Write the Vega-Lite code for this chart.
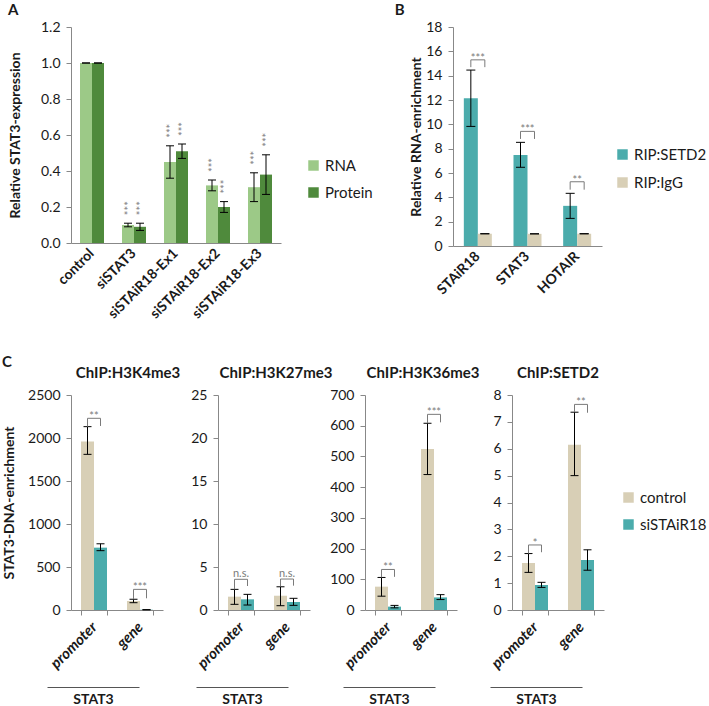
{
  "$schema": "https://vega.github.io/schema/vega-lite/v6.json",
  "background": "white",
  "padding": {"left": 2, "top": 3, "right": 0, "bottom": 0},
  "config": {
    "font": "Lato",
    "view": {"stroke": null},
    "axis": {"grid": false, "domainColor": "#888888", "tickColor": "#888888", "tickSize": 5, "labelFont": "Lato", "labelFontSize": 14, "labelColor": "#1a1a1a", "titleFont": "Lato", "titleFontSize": 14, "titleFontWeight": "bold", "titleColor": "#1a1a1a"},
    "axisY": {"labelOverlap": false, "labelSeparation": -100},
    "legend": {"labelFont": "Lato", "labelFontSize": 15, "labelColor": "#1a1a1a", "symbolType": "square", "symbolSize": 110, "symbolStrokeWidth": 0, "labelOffset": 4},
    "title": {"font": "Lato", "fontSize": 15, "fontWeight": "bold", "color": "#1a1a1a"}
  },
  "datasets": {
    "a": [
      {"cat": "control", "type": "RNA", "v": 1.0, "lo": 1.0, "hi": 1.0, "sig": ""},
      {"cat": "control", "type": "Protein", "v": 1.0, "lo": 1.0, "hi": 1.0, "sig": ""},
      {"cat": "siSTAT3", "type": "RNA", "v": 0.10, "lo": 0.09, "hi": 0.11, "sig": "***"},
      {"cat": "siSTAT3", "type": "Protein", "v": 0.09, "lo": 0.07, "hi": 0.11, "sig": "***"},
      {"cat": "siSTAiR18-Ex1", "type": "RNA", "v": 0.45, "lo": 0.36, "hi": 0.54, "sig": "***"},
      {"cat": "siSTAiR18-Ex1", "type": "Protein", "v": 0.51, "lo": 0.47, "hi": 0.55, "sig": "***"},
      {"cat": "siSTAiR18-Ex2", "type": "RNA", "v": 0.32, "lo": 0.29, "hi": 0.35, "sig": "***"},
      {"cat": "siSTAiR18-Ex2", "type": "Protein", "v": 0.20, "lo": 0.17, "hi": 0.23, "sig": "***"},
      {"cat": "siSTAiR18-Ex3", "type": "RNA", "v": 0.31, "lo": 0.23, "hi": 0.39, "sig": "***"},
      {"cat": "siSTAiR18-Ex3", "type": "Protein", "v": 0.38, "lo": 0.27, "hi": 0.49, "sig": "***"}
    ],
    "b": [
      {"cat": "STAiR18", "rip": "RIP:SETD2", "v": 12.15, "lo": 9.83, "hi": 14.46},
      {"cat": "STAiR18", "rip": "RIP:IgG", "v": 1, "lo": 1, "hi": 1},
      {"cat": "STAT3", "rip": "RIP:SETD2", "v": 7.48, "lo": 6.47, "hi": 8.52},
      {"cat": "STAT3", "rip": "RIP:IgG", "v": 1, "lo": 1, "hi": 1},
      {"cat": "HOTAIR", "rip": "RIP:SETD2", "v": 3.3, "lo": 2.27, "hi": 4.33},
      {"cat": "HOTAIR", "rip": "RIP:IgG", "v": 1, "lo": 1, "hi": 1}
    ],
    "bbr": [
      {"cat": "STAiR18", "rip": "RIP:SETD2", "val": 14.7, "ord": 1},
      {"cat": "STAiR18", "rip": "RIP:SETD2", "val": 15.3, "ord": 2},
      {"cat": "STAiR18", "rip": "RIP:IgG", "val": 15.3, "ord": 3},
      {"cat": "STAiR18", "rip": "RIP:IgG", "val": 14.7, "ord": 4},
      {"cat": "STAT3", "rip": "RIP:SETD2", "val": 8.8, "ord": 1},
      {"cat": "STAT3", "rip": "RIP:SETD2", "val": 9.42, "ord": 2},
      {"cat": "STAT3", "rip": "RIP:IgG", "val": 9.42, "ord": 3},
      {"cat": "STAT3", "rip": "RIP:IgG", "val": 8.8, "ord": 4},
      {"cat": "HOTAIR", "rip": "RIP:SETD2", "val": 4.63, "ord": 1},
      {"cat": "HOTAIR", "rip": "RIP:SETD2", "val": 5.28, "ord": 2},
      {"cat": "HOTAIR", "rip": "RIP:IgG", "val": 5.28, "ord": 3},
      {"cat": "HOTAIR", "rip": "RIP:IgG", "val": 4.63, "ord": 4}
    ],
    "bsig": [
      {"cat": "STAiR18", "y": 15.3, "sig": "***"},
      {"cat": "STAT3", "y": 9.42, "sig": "***"},
      {"cat": "HOTAIR", "y": 5.28, "sig": "**"}
    ],
    "cbars": [
      {"p": "H3K4me3", "cat": "promoter", "cond": "control", "v": 1960, "lo": 1810, "hi": 2132},
      {"p": "H3K4me3", "cat": "promoter", "cond": "siSTAiR18", "v": 725, "lo": 690, "hi": 770},
      {"p": "H3K4me3", "cat": "gene", "cond": "control", "v": 105, "lo": 85, "hi": 125},
      {"p": "H3K4me3", "cat": "gene", "cond": "siSTAiR18", "v": 3, "lo": 2, "hi": 4},
      {"p": "H3K27me3", "cat": "promoter", "cond": "control", "v": 1.55, "lo": 0.66, "hi": 2.4},
      {"p": "H3K27me3", "cat": "promoter", "cond": "siSTAiR18", "v": 1.24, "lo": 0.58, "hi": 1.82},
      {"p": "H3K27me3", "cat": "gene", "cond": "control", "v": 1.66, "lo": 0.5, "hi": 2.7},
      {"p": "H3K27me3", "cat": "gene", "cond": "siSTAiR18", "v": 0.93, "lo": 0.54, "hi": 1.36},
      {"p": "H3K36me3", "cat": "promoter", "cond": "control", "v": 76, "lo": 45, "hi": 106},
      {"p": "H3K36me3", "cat": "promoter", "cond": "siSTAiR18", "v": 11, "lo": 7, "hi": 15},
      {"p": "H3K36me3", "cat": "gene", "cond": "control", "v": 524, "lo": 441, "hi": 608},
      {"p": "H3K36me3", "cat": "gene", "cond": "siSTAiR18", "v": 41, "lo": 34, "hi": 50},
      {"p": "SETD2", "cat": "promoter", "cond": "control", "v": 1.75, "lo": 1.4, "hi": 2.1},
      {"p": "SETD2", "cat": "promoter", "cond": "siSTAiR18", "v": 0.93, "lo": 0.84, "hi": 1.03},
      {"p": "SETD2", "cat": "gene", "cond": "control", "v": 6.15, "lo": 5.0, "hi": 7.36},
      {"p": "SETD2", "cat": "gene", "cond": "siSTAiR18", "v": 1.86, "lo": 1.48, "hi": 2.24}
    ],
    "cbr": [
      {"p": "H3K4me3", "cat": "promoter", "cond": "control", "val": 2132, "ord": 1},
      {"p": "H3K4me3", "cat": "promoter", "cond": "control", "val": 2229, "ord": 2},
      {"p": "H3K4me3", "cat": "promoter", "cond": "siSTAiR18", "val": 2229, "ord": 3},
      {"p": "H3K4me3", "cat": "promoter", "cond": "siSTAiR18", "val": 2140, "ord": 4},
      {"p": "H3K4me3", "cat": "gene", "cond": "control", "val": 125, "ord": 1},
      {"p": "H3K4me3", "cat": "gene", "cond": "control", "val": 240, "ord": 2},
      {"p": "H3K4me3", "cat": "gene", "cond": "siSTAiR18", "val": 240, "ord": 3},
      {"p": "H3K4me3", "cat": "gene", "cond": "siSTAiR18", "val": 136, "ord": 4},
      {"p": "H3K27me3", "cat": "promoter", "cond": "control", "val": 2.4, "ord": 1},
      {"p": "H3K27me3", "cat": "promoter", "cond": "control", "val": 3.57, "ord": 2},
      {"p": "H3K27me3", "cat": "promoter", "cond": "siSTAiR18", "val": 3.57, "ord": 3},
      {"p": "H3K27me3", "cat": "promoter", "cond": "siSTAiR18", "val": 2.79, "ord": 4},
      {"p": "H3K27me3", "cat": "gene", "cond": "control", "val": 2.75, "ord": 1},
      {"p": "H3K27me3", "cat": "gene", "cond": "control", "val": 3.6, "ord": 2},
      {"p": "H3K27me3", "cat": "gene", "cond": "siSTAiR18", "val": 3.6, "ord": 3},
      {"p": "H3K27me3", "cat": "gene", "cond": "siSTAiR18", "val": 2.83, "ord": 4},
      {"p": "H3K36me3", "cat": "promoter", "cond": "control", "val": 106, "ord": 1},
      {"p": "H3K36me3", "cat": "promoter", "cond": "control", "val": 132, "ord": 2},
      {"p": "H3K36me3", "cat": "promoter", "cond": "siSTAiR18", "val": 132, "ord": 3},
      {"p": "H3K36me3", "cat": "promoter", "cond": "siSTAiR18", "val": 108, "ord": 4},
      {"p": "H3K36me3", "cat": "gene", "cond": "control", "val": 608, "ord": 1},
      {"p": "H3K36me3", "cat": "gene", "cond": "control", "val": 637, "ord": 2},
      {"p": "H3K36me3", "cat": "gene", "cond": "siSTAiR18", "val": 637, "ord": 3},
      {"p": "H3K36me3", "cat": "gene", "cond": "siSTAiR18", "val": 611, "ord": 4},
      {"p": "SETD2", "cat": "promoter", "cond": "control", "val": 2.1, "ord": 1},
      {"p": "SETD2", "cat": "promoter", "cond": "control", "val": 2.42, "ord": 2},
      {"p": "SETD2", "cat": "promoter", "cond": "siSTAiR18", "val": 2.42, "ord": 3},
      {"p": "SETD2", "cat": "promoter", "cond": "siSTAiR18", "val": 2.15, "ord": 4},
      {"p": "SETD2", "cat": "gene", "cond": "control", "val": 7.36, "ord": 1},
      {"p": "SETD2", "cat": "gene", "cond": "control", "val": 7.65, "ord": 2},
      {"p": "SETD2", "cat": "gene", "cond": "siSTAiR18", "val": 7.65, "ord": 3},
      {"p": "SETD2", "cat": "gene", "cond": "siSTAiR18", "val": 7.34, "ord": 4}
    ],
    "csig": [
      {"p": "H3K4me3", "cat": "promoter", "y": 2229, "sig": "**"},
      {"p": "H3K4me3", "cat": "gene", "y": 240, "sig": "***"},
      {"p": "H3K27me3", "cat": "promoter", "y": 3.57, "sig": "n.s."},
      {"p": "H3K27me3", "cat": "gene", "y": 3.6, "sig": "n.s."},
      {"p": "H3K36me3", "cat": "promoter", "y": 132, "sig": "**"},
      {"p": "H3K36me3", "cat": "gene", "y": 637, "sig": "***"},
      {"p": "SETD2", "cat": "promoter", "y": 2.42, "sig": "*"},
      {"p": "SETD2", "cat": "gene", "y": 7.65, "sig": "**"}
    ]
  },
  "resolve": {"scale": {"color": "independent"}},
  "spacing": 34,
  "vconcat": [
    {
      "bounds": "flush",
      "spacing": 172,
      "resolve": {"scale": {"color": "independent"}},
      "hconcat": [
        {
          "title": {"text": "A", "anchor": "start", "frame": "bounds", "offset": 2},
          "width": 210,
          "height": 216,
          "data": {"name": "a"},
          "encoding": {
            "x": {"field": "cat", "type": "nominal", "title": null, "scale": {"domain": ["control", "siSTAT3", "siSTAiR18-Ex1", "siSTAiR18-Ex2", "siSTAiR18-Ex3"], "paddingInner": 0.43, "paddingOuter": 0.215}, "axis": {"labelAngle": -45, "labelAlign": "right", "labelBaseline": "middle", "labelFontWeight": "bold", "ticks": false, "labelPadding": 8}}
          },
          "layer": [
            {
              "mark": {"type": "bar", "width": 12, "xOffset": {"expr": "datum.type == 'RNA' ? -6 : 6"}},
              "encoding": {
                "y": {"field": "v", "type": "quantitative", "stack": null, "title": "Relative STAT3-expression", "scale": {"domain": [0, 1.2], "nice": false}, "axis": {"values": [0, 0.2, 0.4, 0.6, 0.8, 1.0, 1.2], "format": ".1f", "labelOverlap": false, "labelPadding": 6, "minExtent": 35, "maxExtent": 35, "titlePadding": 14}},
                "color": {"field": "type", "type": "nominal", "scale": {"domain": ["RNA", "Protein"], "range": ["#9cc987", "#4f8a3c"]}, "legend": {"title": null, "orient": "none", "legendX": 235, "legendY": 131, "rowPadding": 11}}
              }
            },
            {
              "mark": {"type": "rule", "color": "#000000", "strokeWidth": 1, "xOffset": {"expr": "datum.type == 'RNA' ? -6 : 6"}},
              "encoding": {
                "y": {"field": "lo", "type": "quantitative", "title": "Relative STAT3-expression", "scale": {"domain": [0, 1.2], "nice": false}, "axis": {"values": [0, 0.2, 0.4, 0.6, 0.8, 1.0, 1.2], "format": ".1f", "labelOverlap": false, "labelPadding": 6, "minExtent": 35, "maxExtent": 35, "titlePadding": 14}},
                "y2": {"field": "hi"}
              }
            },
            {
              "transform": [{"fold": ["lo", "hi"], "as": ["k", "val"]}],
              "mark": {"type": "tick", "color": "#000000", "size": 8, "thickness": 1, "opacity": 1, "xOffset": {"expr": "datum.type == 'RNA' ? -6 : 6"}},
              "encoding": {
                "y": {"field": "val", "type": "quantitative", "title": "Relative STAT3-expression", "scale": {"domain": [0, 1.2], "nice": false}, "axis": {"values": [0, 0.2, 0.4, 0.6, 0.8, 1.0, 1.2], "format": ".1f", "labelOverlap": false, "labelPadding": 6, "minExtent": 35, "maxExtent": 35, "titlePadding": 14}}
              }
            },
            {
              "mark": {"type": "text", "angle": 270, "align": "left", "baseline": "middle", "dx": 8, "dy": 2, "fontSize": 11, "color": "#7a7a7a", "font": "Lato", "xOffset": {"expr": "datum.type == 'RNA' ? -6 : 6"}},
              "encoding": {
                "y": {"field": "hi", "type": "quantitative", "title": "Relative STAT3-expression", "scale": {"domain": [0, 1.2], "nice": false}, "axis": {"values": [0, 0.2, 0.4, 0.6, 0.8, 1.0, 1.2], "format": ".1f", "labelOverlap": false, "labelPadding": 6, "minExtent": 35, "maxExtent": 35, "titlePadding": 14}},
                "text": {"field": "sig"}
              }
            }
          ]
        },
        {
          "title": {"text": "B", "anchor": "start", "frame": "bounds", "offset": 2, "dx": -15},
          "width": 149,
          "height": 219,
          "encoding": {
            "x": {"field": "cat", "type": "nominal", "title": null, "scale": {"domain": ["STAiR18", "STAT3", "HOTAIR"], "paddingInner": 0.44, "paddingOuter": 0.22}, "axis": {"labelAngle": -45, "labelAlign": "right", "labelBaseline": "middle", "labelFontWeight": "bold", "ticks": false, "labelPadding": 8}}
          },
          "layer": [
            {
              "data": {"name": "b"},
              "mark": {"type": "bar", "width": 14, "xOffset": {"expr": "datum.rip == 'RIP:SETD2' ? -7 : 7"}},
              "encoding": {
                "y": {"field": "v", "type": "quantitative", "stack": null, "title": "Relative RNA-enrichment", "scale": {"domain": [0, 18], "nice": false}, "axis": {"values": [0, 2, 4, 6, 8, 10, 12, 14, 16, 18], "format": "d", "labelOverlap": false, "labelPadding": 6, "titlePadding": 2}},
                "color": {"field": "rip", "type": "nominal", "scale": {"domain": ["RIP:SETD2", "RIP:IgG"], "range": ["#4bacac", "#d8cfb6"]}, "legend": {"title": null, "orient": "none", "legendX": 162, "legendY": 120, "rowPadding": 12}}
              }
            },
            {
              "data": {"name": "b"},
              "mark": {"type": "rule", "color": "#000000", "strokeWidth": 1, "xOffset": {"expr": "datum.rip == 'RIP:SETD2' ? -7 : 7"}},
              "encoding": {
                "y": {"field": "lo", "type": "quantitative", "title": "Relative RNA-enrichment", "scale": {"domain": [0, 18], "nice": false}, "axis": {"values": [0, 2, 4, 6, 8, 10, 12, 14, 16, 18], "format": "d", "labelOverlap": false, "labelPadding": 6, "titlePadding": 2}},
                "y2": {"field": "hi"}
              }
            },
            {
              "data": {"name": "b"},
              "transform": [{"fold": ["lo", "hi"], "as": ["k", "val"]}],
              "mark": {"type": "tick", "color": "#000000", "size": 9, "thickness": 1, "opacity": 1, "xOffset": {"expr": "datum.rip == 'RIP:SETD2' ? -7 : 7"}},
              "encoding": {
                "y": {"field": "val", "type": "quantitative", "title": "Relative RNA-enrichment", "scale": {"domain": [0, 18], "nice": false}, "axis": {"values": [0, 2, 4, 6, 8, 10, 12, 14, 16, 18], "format": "d", "labelOverlap": false, "labelPadding": 6, "titlePadding": 2}}
              }
            },
            {
              "data": {"name": "bbr"},
              "mark": {"type": "line", "color": "#7a7a7a", "strokeWidth": 1, "xOffset": {"expr": "datum.rip == 'RIP:SETD2' ? -7 : 7"}},
              "encoding": {
                "y": {"field": "val", "type": "quantitative", "title": "Relative RNA-enrichment", "scale": {"domain": [0, 18], "nice": false}, "axis": {"values": [0, 2, 4, 6, 8, 10, 12, 14, 16, 18], "format": "d", "labelOverlap": false, "labelPadding": 6, "titlePadding": 2}},
                "detail": {"field": "cat"},
                "order": {"field": "ord", "type": "quantitative"}
              }
            },
            {
              "data": {"name": "bsig"},
              "mark": {"type": "text", "baseline": "alphabetic", "align": "center", "dy": 2, "fontSize": 11, "color": "#7a7a7a", "font": "Lato"},
              "encoding": {
                "y": {"field": "y", "type": "quantitative", "title": "Relative RNA-enrichment", "scale": {"domain": [0, 18], "nice": false}, "axis": {"values": [0, 2, 4, 6, 8, 10, 12, 14, 16, 18], "format": "d", "labelOverlap": false, "labelPadding": 6, "titlePadding": 2}},
                "text": {"field": "sig"}
              }
            }
          ]
        }
      ]
    },
    {
      "title": {"text": "C", "anchor": "start", "offset": -4},
      "bounds": "flush",
      "spacing": 55,
      "resolve": {"scale": {"color": "independent"}},
      "hconcat": [
        {
          "title": {"text": "ChIP:H3K4me3", "frame": "group", "anchor": "middle", "dx": 11, "offset": 7},
          "width": 92,
          "height": 215,
          "resolve": {"axis": {"x": "independent"}},
          "layer": [
            {
              "encoding": {
                "x": {"field": "cat", "type": "nominal", "title": null, "scale": {"domain": ["promoter", "gene"], "paddingInner": 0.43, "paddingOuter": 0.215}, "axis": {"labelAngle": -45, "labelAlign": "right", "labelBaseline": "middle", "labelFontWeight": "bold", "labelFontStyle": "italic", "labelFontSize": 15, "tickBand": "extent", "labelPadding": 9}}
              },
              "layer": [
                {
                  "data": {"name": "cbars"},
                  "transform": [{"filter": "datum.p == 'H3K4me3'"}],
                  "mark": {"type": "bar", "width": 13, "xOffset": {"expr": "datum.cond == 'control' ? -6.5 : 6.5"}},
                  "encoding": {
                    "y": {"field": "v", "type": "quantitative", "stack": null, "title": "STAT3-DNA-enrichment", "scale": {"domain": [0, 2500], "nice": false}, "axis": {"values": [0, 500, 1000, 1500, 2000, 2500], "format": "d", "labelOverlap": false, "labelPadding": 6, "minExtent": 43, "maxExtent": 43, "titlePadding": 12}},
                    "color": {"field": "cond", "type": "nominal", "scale": {"domain": ["control", "siSTAiR18"], "range": ["#d8cfb6", "#4bacac"]}, "legend": null}
                  }
                },
                {
                  "data": {"name": "cbars"},
                  "transform": [{"filter": "datum.p == 'H3K4me3'"}],
                  "mark": {"type": "rule", "color": "#000000", "strokeWidth": 1, "xOffset": {"expr": "datum.cond == 'control' ? -6.5 : 6.5"}},
                  "encoding": {"y": {"field": "lo", "type": "quantitative", "title": "STAT3-DNA-enrichment", "scale": {"domain": [0, 2500], "nice": false}, "axis": {"values": [0, 500, 1000, 1500, 2000, 2500], "format": "d", "labelOverlap": false, "labelPadding": 6, "minExtent": 43, "maxExtent": 43, "titlePadding": 12}}, "y2": {"field": "hi"}}
                },
                {
                  "data": {"name": "cbars"},
                  "transform": [{"filter": "datum.p == 'H3K4me3'"}, {"fold": ["lo", "hi"], "as": ["k", "val"]}],
                  "mark": {"type": "tick", "color": "#000000", "size": 8, "thickness": 1, "opacity": 1, "xOffset": {"expr": "datum.cond == 'control' ? -6.5 : 6.5"}},
                  "encoding": {"y": {"field": "val", "type": "quantitative", "title": "STAT3-DNA-enrichment", "scale": {"domain": [0, 2500], "nice": false}, "axis": {"values": [0, 500, 1000, 1500, 2000, 2500], "format": "d", "labelOverlap": false, "labelPadding": 6, "minExtent": 43, "maxExtent": 43, "titlePadding": 12}}}
                },
                {
                  "data": {"name": "cbr"},
                  "transform": [{"filter": "datum.p == 'H3K4me3'"}],
                  "mark": {"type": "line", "color": "#7a7a7a", "strokeWidth": 1, "xOffset": {"expr": "datum.cond == 'control' ? -6.5 : 6.5"}},
                  "encoding": {"y": {"field": "val", "type": "quantitative", "title": "STAT3-DNA-enrichment", "scale": {"domain": [0, 2500], "nice": false}, "axis": {"values": [0, 500, 1000, 1500, 2000, 2500], "format": "d", "labelOverlap": false, "labelPadding": 6, "minExtent": 43, "maxExtent": 43, "titlePadding": 12}}, "detail": {"field": "cat"}, "order": {"field": "ord", "type": "quantitative"}}
                },
                {
                  "data": {"name": "csig"},
                  "transform": [{"filter": "datum.p == 'H3K4me3'"}],
                  "mark": {"type": "text", "baseline": "alphabetic", "align": "center", "dy": 2, "fontSize": 11, "color": "#7a7a7a", "font": "Lato"},
                  "encoding": {"y": {"field": "y", "type": "quantitative", "title": "STAT3-DNA-enrichment", "scale": {"domain": [0, 2500], "nice": false}, "axis": {"values": [0, 500, 1000, 1500, 2000, 2500], "format": "d", "labelOverlap": false, "labelPadding": 6, "minExtent": 43, "maxExtent": 43, "titlePadding": 12}}, "text": {"field": "sig"}}
                }
              ]
            },
            {
              "data": {"name": "csig"},
              "transform": [{"filter": "datum.p == 'H3K4me3'"}],
              "mark": {"type": "text", "text": ""},
              "encoding": {
                "x": {"field": "cat", "type": "nominal", "title": "STAT3", "scale": {"domain": ["promoter", "gene"]}, "axis": {"orient": "bottom", "offset": 77, "position": -24, "labels": false, "ticks": false, "domainColor": "#555555", "titlePadding": 5}},
                "y": {"field": "y", "type": "quantitative", "title": "STAT3-DNA-enrichment", "scale": {"domain": [0, 2500], "nice": false}, "axis": {"values": [0, 500, 1000, 1500, 2000, 2500], "format": "d", "labelOverlap": false, "labelPadding": 6, "minExtent": 43, "maxExtent": 43, "titlePadding": 12}}
              }
            }
          ]
        },
        {
          "title": {"text": "ChIP:H3K27me3", "frame": "group", "anchor": "middle", "dx": 12, "offset": 7},
          "width": 92,
          "height": 215,
          "resolve": {"axis": {"x": "independent"}},
          "layer": [
            {
              "encoding": {
                "x": {"field": "cat", "type": "nominal", "title": null, "scale": {"domain": ["promoter", "gene"], "paddingInner": 0.43, "paddingOuter": 0.215}, "axis": {"labelAngle": -45, "labelAlign": "right", "labelBaseline": "middle", "labelFontWeight": "bold", "labelFontStyle": "italic", "labelFontSize": 15, "tickBand": "extent", "labelPadding": 9}}
              },
              "layer": [
                {
                  "data": {"name": "cbars"},
                  "transform": [{"filter": "datum.p == 'H3K27me3'"}],
                  "mark": {"type": "bar", "width": 13, "xOffset": {"expr": "datum.cond == 'control' ? -6.5 : 6.5"}},
                  "encoding": {
                    "y": {"field": "v", "type": "quantitative", "stack": null, "title": null, "scale": {"domain": [0, 25], "nice": false}, "axis": {"values": [0, 5, 10, 15, 20, 25], "format": "d", "labelOverlap": false, "labelPadding": 6}},
                    "color": {"field": "cond", "type": "nominal", "scale": {"domain": ["control", "siSTAiR18"], "range": ["#d8cfb6", "#4bacac"]}, "legend": null}
                  }
                },
                {
                  "data": {"name": "cbars"},
                  "transform": [{"filter": "datum.p == 'H3K27me3'"}],
                  "mark": {"type": "rule", "color": "#000000", "strokeWidth": 1, "xOffset": {"expr": "datum.cond == 'control' ? -6.5 : 6.5"}},
                  "encoding": {"y": {"field": "lo", "type": "quantitative", "title": null, "scale": {"domain": [0, 25], "nice": false}, "axis": {"values": [0, 5, 10, 15, 20, 25], "format": "d", "labelOverlap": false, "labelPadding": 6}}, "y2": {"field": "hi"}}
                },
                {
                  "data": {"name": "cbars"},
                  "transform": [{"filter": "datum.p == 'H3K27me3'"}, {"fold": ["lo", "hi"], "as": ["k", "val"]}],
                  "mark": {"type": "tick", "color": "#000000", "size": 8, "thickness": 1, "opacity": 1, "xOffset": {"expr": "datum.cond == 'control' ? -6.5 : 6.5"}},
                  "encoding": {"y": {"field": "val", "type": "quantitative", "title": null, "scale": {"domain": [0, 25], "nice": false}, "axis": {"values": [0, 5, 10, 15, 20, 25], "format": "d", "labelOverlap": false, "labelPadding": 6}}}
                },
                {
                  "data": {"name": "cbr"},
                  "transform": [{"filter": "datum.p == 'H3K27me3'"}],
                  "mark": {"type": "line", "color": "#7a7a7a", "strokeWidth": 1, "xOffset": {"expr": "datum.cond == 'control' ? -6.5 : 6.5"}},
                  "encoding": {"y": {"field": "val", "type": "quantitative", "title": null, "scale": {"domain": [0, 25], "nice": false}, "axis": {"values": [0, 5, 10, 15, 20, 25], "format": "d", "labelOverlap": false, "labelPadding": 6}}, "detail": {"field": "cat"}, "order": {"field": "ord", "type": "quantitative"}}
                },
                {
                  "data": {"name": "csig"},
                  "transform": [{"filter": "datum.p == 'H3K27me3'"}],
                  "mark": {"type": "text", "baseline": "alphabetic", "align": "center", "dy": -2, "fontSize": 11, "color": "#7a7a7a", "font": "Lato"},
                  "encoding": {"y": {"field": "y", "type": "quantitative", "title": null, "scale": {"domain": [0, 25], "nice": false}, "axis": {"values": [0, 5, 10, 15, 20, 25], "format": "d", "labelOverlap": false, "labelPadding": 6}}, "text": {"field": "sig"}}
                }
              ]
            },
            {
              "data": {"name": "csig"},
              "transform": [{"filter": "datum.p == 'H3K27me3'"}],
              "mark": {"type": "text", "text": ""},
              "encoding": {
                "x": {"field": "cat", "type": "nominal", "title": "STAT3", "scale": {"domain": ["promoter", "gene"]}, "axis": {"orient": "bottom", "offset": 77, "position": -22, "labels": false, "ticks": false, "domainColor": "#555555", "titlePadding": 5}},
                "y": {"field": "y", "type": "quantitative", "title": null, "scale": {"domain": [0, 25], "nice": false}, "axis": {"values": [0, 5, 10, 15, 20, 25], "format": "d", "labelOverlap": false, "labelPadding": 6}}
              }
            }
          ]
        },
        {
          "title": {"text": "ChIP:H3K36me3", "frame": "group", "anchor": "middle", "dx": 12, "offset": 7},
          "width": 92,
          "height": 215,
          "resolve": {"axis": {"x": "independent"}},
          "layer": [
            {
              "encoding": {
                "x": {"field": "cat", "type": "nominal", "title": null, "scale": {"domain": ["promoter", "gene"], "paddingInner": 0.43, "paddingOuter": 0.215}, "axis": {"labelAngle": -45, "labelAlign": "right", "labelBaseline": "middle", "labelFontWeight": "bold", "labelFontStyle": "italic", "labelFontSize": 15, "tickBand": "extent", "labelPadding": 9}}
              },
              "layer": [
                {
                  "data": {"name": "cbars"},
                  "transform": [{"filter": "datum.p == 'H3K36me3'"}],
                  "mark": {"type": "bar", "width": 13, "xOffset": {"expr": "datum.cond == 'control' ? -6.5 : 6.5"}},
                  "encoding": {
                    "y": {"field": "v", "type": "quantitative", "stack": null, "title": null, "scale": {"domain": [0, 700], "nice": false}, "axis": {"values": [0, 100, 200, 300, 400, 500, 600, 700], "format": "d", "labelOverlap": false, "labelPadding": 6}},
                    "color": {"field": "cond", "type": "nominal", "scale": {"domain": ["control", "siSTAiR18"], "range": ["#d8cfb6", "#4bacac"]}, "legend": null}
                  }
                },
                {
                  "data": {"name": "cbars"},
                  "transform": [{"filter": "datum.p == 'H3K36me3'"}],
                  "mark": {"type": "rule", "color": "#000000", "strokeWidth": 1, "xOffset": {"expr": "datum.cond == 'control' ? -6.5 : 6.5"}},
                  "encoding": {"y": {"field": "lo", "type": "quantitative", "title": null, "scale": {"domain": [0, 700], "nice": false}, "axis": {"values": [0, 100, 200, 300, 400, 500, 600, 700], "format": "d", "labelOverlap": false, "labelPadding": 6}}, "y2": {"field": "hi"}}
                },
                {
                  "data": {"name": "cbars"},
                  "transform": [{"filter": "datum.p == 'H3K36me3'"}, {"fold": ["lo", "hi"], "as": ["k", "val"]}],
                  "mark": {"type": "tick", "color": "#000000", "size": 8, "thickness": 1, "opacity": 1, "xOffset": {"expr": "datum.cond == 'control' ? -6.5 : 6.5"}},
                  "encoding": {"y": {"field": "val", "type": "quantitative", "title": null, "scale": {"domain": [0, 700], "nice": false}, "axis": {"values": [0, 100, 200, 300, 400, 500, 600, 700], "format": "d", "labelOverlap": false, "labelPadding": 6}}}
                },
                {
                  "data": {"name": "cbr"},
                  "transform": [{"filter": "datum.p == 'H3K36me3'"}],
                  "mark": {"type": "line", "color": "#7a7a7a", "strokeWidth": 1, "xOffset": {"expr": "datum.cond == 'control' ? -6.5 : 6.5"}},
                  "encoding": {"y": {"field": "val", "type": "quantitative", "title": null, "scale": {"domain": [0, 700], "nice": false}, "axis": {"values": [0, 100, 200, 300, 400, 500, 600, 700], "format": "d", "labelOverlap": false, "labelPadding": 6}}, "detail": {"field": "cat"}, "order": {"field": "ord", "type": "quantitative"}}
                },
                {
                  "data": {"name": "csig"},
                  "transform": [{"filter": "datum.p == 'H3K36me3'"}],
                  "mark": {"type": "text", "baseline": "alphabetic", "align": "center", "dy": 2, "fontSize": 11, "color": "#7a7a7a", "font": "Lato"},
                  "encoding": {"y": {"field": "y", "type": "quantitative", "title": null, "scale": {"domain": [0, 700], "nice": false}, "axis": {"values": [0, 100, 200, 300, 400, 500, 600, 700], "format": "d", "labelOverlap": false, "labelPadding": 6}}, "text": {"field": "sig"}}
                }
              ]
            },
            {
              "data": {"name": "csig"},
              "transform": [{"filter": "datum.p == 'H3K36me3'"}],
              "mark": {"type": "text", "text": ""},
              "encoding": {
                "x": {"field": "cat", "type": "nominal", "title": "STAT3", "scale": {"domain": ["promoter", "gene"]}, "axis": {"orient": "bottom", "offset": 77, "position": -22, "labels": false, "ticks": false, "domainColor": "#555555", "titlePadding": 5}},
                "y": {"field": "y", "type": "quantitative", "title": null, "scale": {"domain": [0, 700], "nice": false}, "axis": {"values": [0, 100, 200, 300, 400, 500, 600, 700], "format": "d", "labelOverlap": false, "labelPadding": 6}}
              }
            }
          ]
        },
        {
          "title": {"text": "ChIP:SETD2", "frame": "group", "anchor": "middle", "dx": 0, "offset": 7},
          "width": 92,
          "height": 215,
          "resolve": {"axis": {"x": "independent"}},
          "layer": [
            {
              "encoding": {
                "x": {"field": "cat", "type": "nominal", "title": null, "scale": {"domain": ["promoter", "gene"], "paddingInner": 0.43, "paddingOuter": 0.215}, "axis": {"labelAngle": -45, "labelAlign": "right", "labelBaseline": "middle", "labelFontWeight": "bold", "labelFontStyle": "italic", "labelFontSize": 15, "tickBand": "extent", "labelPadding": 9}}
              },
              "layer": [
                {
                  "data": {"name": "cbars"},
                  "transform": [{"filter": "datum.p == 'SETD2'"}],
                  "mark": {"type": "bar", "width": 13, "xOffset": {"expr": "datum.cond == 'control' ? -6.5 : 6.5"}},
                  "encoding": {
                    "y": {"field": "v", "type": "quantitative", "stack": null, "title": null, "scale": {"domain": [0, 8], "nice": false}, "axis": {"values": [0, 1, 2, 3, 4, 5, 6, 7, 8], "format": "d", "labelOverlap": false, "labelPadding": 6}},
                    "color": {"field": "cond", "type": "nominal", "scale": {"domain": ["control", "siSTAiR18"], "range": ["#d8cfb6", "#4bacac"]}, "legend": {"title": null, "orient": "none", "legendX": 109, "legendY": 95, "rowPadding": 11}}
                  }
                },
                {
                  "data": {"name": "cbars"},
                  "transform": [{"filter": "datum.p == 'SETD2'"}],
                  "mark": {"type": "rule", "color": "#000000", "strokeWidth": 1, "xOffset": {"expr": "datum.cond == 'control' ? -6.5 : 6.5"}},
                  "encoding": {"y": {"field": "lo", "type": "quantitative", "title": null, "scale": {"domain": [0, 8], "nice": false}, "axis": {"values": [0, 1, 2, 3, 4, 5, 6, 7, 8], "format": "d", "labelOverlap": false, "labelPadding": 6}}, "y2": {"field": "hi"}}
                },
                {
                  "data": {"name": "cbars"},
                  "transform": [{"filter": "datum.p == 'SETD2'"}, {"fold": ["lo", "hi"], "as": ["k", "val"]}],
                  "mark": {"type": "tick", "color": "#000000", "size": 8, "thickness": 1, "opacity": 1, "xOffset": {"expr": "datum.cond == 'control' ? -6.5 : 6.5"}},
                  "encoding": {"y": {"field": "val", "type": "quantitative", "title": null, "scale": {"domain": [0, 8], "nice": false}, "axis": {"values": [0, 1, 2, 3, 4, 5, 6, 7, 8], "format": "d", "labelOverlap": false, "labelPadding": 6}}}
                },
                {
                  "data": {"name": "cbr"},
                  "transform": [{"filter": "datum.p == 'SETD2'"}],
                  "mark": {"type": "line", "color": "#7a7a7a", "strokeWidth": 1, "xOffset": {"expr": "datum.cond == 'control' ? -6.5 : 6.5"}},
                  "encoding": {"y": {"field": "val", "type": "quantitative", "title": null, "scale": {"domain": [0, 8], "nice": false}, "axis": {"values": [0, 1, 2, 3, 4, 5, 6, 7, 8], "format": "d", "labelOverlap": false, "labelPadding": 6}}, "detail": {"field": "cat"}, "order": {"field": "ord", "type": "quantitative"}}
                },
                {
                  "data": {"name": "csig"},
                  "transform": [{"filter": "datum.p == 'SETD2'"}],
                  "mark": {"type": "text", "baseline": "alphabetic", "align": "center", "dy": 2, "fontSize": 11, "color": "#7a7a7a", "font": "Lato"},
                  "encoding": {"y": {"field": "y", "type": "quantitative", "title": null, "scale": {"domain": [0, 8], "nice": false}, "axis": {"values": [0, 1, 2, 3, 4, 5, 6, 7, 8], "format": "d", "labelOverlap": false, "labelPadding": 6}}, "text": {"field": "sig"}}
                }
              ]
            },
            {
              "data": {"name": "csig"},
              "transform": [{"filter": "datum.p == 'SETD2'"}],
              "mark": {"type": "text", "text": ""},
              "encoding": {
                "x": {"field": "cat", "type": "nominal", "title": "STAT3", "scale": {"domain": ["promoter", "gene"]}, "axis": {"orient": "bottom", "offset": 77, "position": -22, "labels": false, "ticks": false, "domainColor": "#555555", "titlePadding": 5}},
                "y": {"field": "y", "type": "quantitative", "title": null, "scale": {"domain": [0, 8], "nice": false}, "axis": {"values": [0, 1, 2, 3, 4, 5, 6, 7, 8], "format": "d", "labelOverlap": false, "labelPadding": 6}}
              }
            }
          ]
        }
      ]
    }
  ]
}
